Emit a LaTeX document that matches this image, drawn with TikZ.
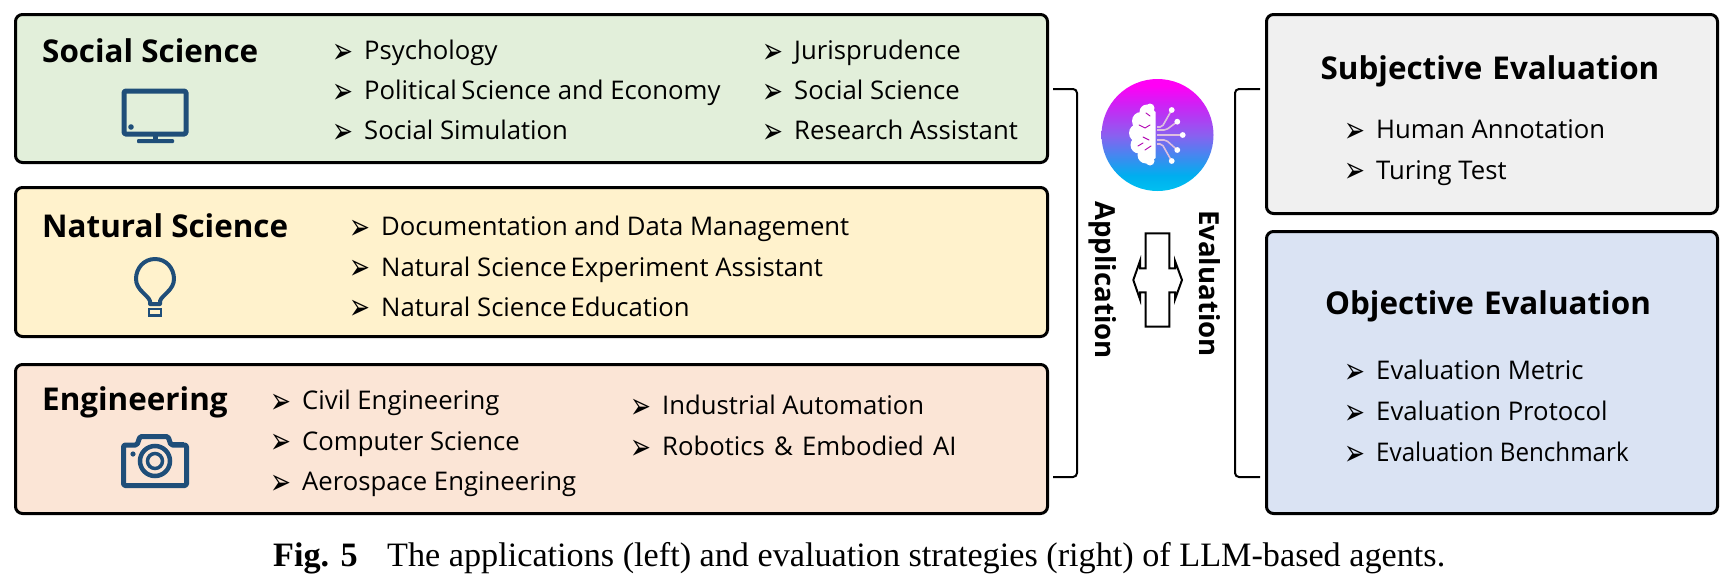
\documentclass[tikz,border=0pt]{standalone}
\usepackage{fontspec}
\setmainfont{Open Sans}
\newfontfamily\arrowfont{DejaVu Sans}
\newfontfamily\capfont{Liberation Serif}
\usetikzlibrary{calc}
\definecolor{iconblue}{HTML}{1F4E79}
\definecolor{gsoc}{HTML}{E2EFDA}
\definecolor{gnat}{HTML}{FFF2CC}
\definecolor{geng}{HTML}{FBE5D6}
\definecolor{gsub}{HTML}{F0F0F0}
\definecolor{gobj}{HTML}{DAE3F3}
\definecolor{bgA}{HTML}{00C0F0}
\definecolor{bgB}{HTML}{00AEEF}
\definecolor{bgC}{HTML}{8A60F0}
\definecolor{bgD}{HTML}{D020F5}
\definecolor{bgE}{HTML}{FF00F5}
\pgfdeclareverticalshading{brainbg}{100bp}{
 color(0bp)=(bgA);
 color(25bp)=(bgA);
 color(32bp)=(bgB);
 color(50bp)=(bgC);
 color(64bp)=(bgD);
 color(72bp)=(bgE);
 color(100bp)=(bgE)}
\tikzset{
 panel/.style={draw=black,line width=3pt,rounded corners=7pt,anchor=north west,inner sep=0pt},
 heading/.style={font=\bfseries\fontsize{31.4}{32}\selectfont,inner sep=0pt,anchor=mid west},
 entry/.style={font=\fontsize{25.7}{26}\selectfont,inner sep=0pt,anchor=mid west},
 vlabel/.style={font=\bfseries\fontsize{27.6}{28}\selectfont,inner sep=0pt,rotate=-90},
 bracket/.style={draw=black,line width=2pt,rounded corners=4pt},
 iconline/.style={draw=iconblue,line width=5pt,line join=round},
 trace/.style={draw=white!75!violet,line width=1.6pt,rounded corners=2pt}
}
\newcommand{\bul}[1]{\makebox[30pt][l]{\hspace{-1.5pt}\raisebox{-3.5pt}{\scalebox{1}[1.45]{\arrowfont\fontsize{25}{25}\selectfont ➢}}}#1}
\begin{document}
\begin{tikzpicture}[x=1pt,y=-1pt]
\useasboundingbox (0,0) rectangle (1727,584);
% panels
\node[panel,fill=gsoc,minimum width=1032pt,minimum height=148pt] (social) at (14,13) {};
\node[panel,fill=gnat,minimum width=1032pt,minimum height=149pt] (natural) at (14,186) {};
\node[panel,fill=geng,minimum width=1032pt,minimum height=149pt] (engin) at (14,363) {};
\node[panel,fill=gsub,minimum width=451pt,minimum height=199pt] (subj) at (1265,13) {};
\node[panel,fill=gobj,minimum width=451pt,minimum height=282pt] (obj) at (1265,230) {};
% headings
\node[heading] (tsoc) at (42,60) {Social Science};
\node[heading] (tnat) at (42,235) {Natural Science};
\node[heading] (teng) at (42,408) {Engineering};
\node[heading,anchor=center] (tsub) at (1490,71) {Subjective\hspace{2pt} Evaluation};
\node[heading,anchor=center] (tobj) at (1488,306) {Objective\hspace{2pt} Evaluation};
% social
\node[entry] (s1) at (334,57) {\bul{Psychology}};
\node[entry] (s2) at (334,97) {\bul{Political\hspace{-2pt} Science and Economy}};
\node[entry] (s3) at (334,137) {\bul{Social Simulation}};
\node[entry] (s4) at (764,57) {\bul{Jurisprudence}};
\node[entry] (s5) at (764,97) {\bul{Social Science}};
\node[entry] (s6) at (764,137) {\bul{Research Assistant}};
% natural
\node[entry] (n1) at (351,233) {\bul{Documentation and Data Management}};
\node[entry] (n2) at (351,273.5) {\bul{Natural Science\hspace{-3pt} Experiment Assistant}};
\node[entry] (n3) at (351,313.5) {\bul{Natural Science\hspace{-3pt} Education}};
% engineering
\node[entry] (e1) at (272,407) {\bul{Civil Engineering}};
\node[entry] (e2) at (272,447.5) {\bul{Computer Science}};
\node[entry] (e3) at (272,488) {\bul{Aerospace Engineering}};
\node[entry] (e4) at (632,412) {\bul{Industrial Automation}};
\node[entry] (e5) at (632,453) {\bul{Robotics\hspace{2.5pt} \&\hspace{2.5pt} Embodied\hspace{2.5pt} AI}};
% evaluation
\node[entry] (j1) at (1346,136) {\bul{Human Annotation}};
\node[entry] (j2) at (1346,176.5) {\bul{Turing Test}};
\node[entry] (o1) at (1346,377) {\bul{Evaluation Metric}};
\node[entry] (o2) at (1346,418) {\bul{Evaluation Protocol}};
\node[entry] (o3) at (1346,459) {\bul{\scalebox{0.94}[1]{Evaluation Benchmark}}};
% brackets
\coordinate (la) at (1053,89); \coordinate (lb) at (1077,89);
\coordinate (lc) at (1077,477); \coordinate (ld) at (1053,477);
\coordinate (ra) at (1260,89); \coordinate (rb) at (1235,89);
\coordinate (rc) at (1235,477); \coordinate (rd) at (1260,477);
\draw[bracket] (la) -- (lb) -- (lc) -- (ld);
\draw[bracket] (ra) -- (rb) -- (rc) -- (rd);
% vertical labels
\node[vlabel] (app) at (1103,280) {Application};
\node[vlabel] (eva) at (1210,283.5) {Evaluation};
% double arrow
\draw[black,line width=2pt,fill=white,line join=miter]
 (1145.7,233.3) -- (1145.7,268.3) -- (1140,268.3) -- (1140,261) -- (1133.3,280) -- (1140,299.3) -- (1140,292.3) -- (1145.7,292.3)
 -- (1145.7,326.7) -- (1169.3,326.7) -- (1169.3,292.3) -- (1175,292.3) -- (1175,299.3) -- (1182,280) -- (1175,261) -- (1175,268.3) -- (1169.3,268.3) -- (1169.3,233.3) -- cycle;
% brain logo
\shade[shading=brainbg] (1157.5,135) circle (56);
\begin{scope}
\clip (1128,100) rectangle (1155.5,170);
\fill[white] (1147,112) circle (7.5) (1141,121) circle (9) (1138,133) circle (9) (1139,145) circle (8.5) (1146,155) circle (8.5) (1150,135) circle (14) (1150,108) circle (4.5) (1150,161) circle (4.5) (1150,120) circle (10) (1150,150) circle (10);
\end{scope}
\draw[violet!60!magenta,line width=.9pt,line cap=round]
 (1146,113) -- (1150,116) (1139,125) -- (1145,128) -- (1150,125) (1138,146) -- (1143,143) (1145,150) -- (1151,146) (1143,137) -- (1149,140);
\foreach \i/\px/\py/\mx/\my in {a/1171.7/110/1162/127,b/1177.3/121.7/1166/130,d/1177.3/150/1166/140,e/1171.7/161/1162/144}{
 \draw[trace] (1157,\my) -- (\mx,\my) -- ($(\mx,\my)!.5!(\px,\py)$) -- (\px,\py);
 \fill[white] (\px,\py) circle (2.9);
}
\draw[trace] (1157,135) -- (1182.7,135);
\fill[white] (1182.7,135) circle (2.9);
% monitor icon
\draw[iconline,rounded corners=1.5pt] (124,91) rectangle (186,134);
\fill[iconblue] (131,127) circle (2.8);
\fill[iconblue] (153,136) rectangle (158,140);
\fill[iconblue,rounded corners=1pt] (137,139) rectangle (174,143);
% bulb icon
\draw[iconblue,line width=4pt,line join=round]
 (150,304) -- (150,301) .. controls (148,295) and (136,290) .. (136,279) .. controls (136,268) and (144,259) .. (155,259)
 .. controls (166,259) and (174,268) .. (174,279) .. controls (174,290) and (162,295) .. (160,301) -- (160,304) -- cycle;
\draw[iconblue,line width=2.8pt] (149,309) rectangle (161,315.5);
% camera icon
\draw[iconline,rounded corners=1.5pt] (123.5,445) -- (137,445) -- (140,436.5) -- (168,436.5) -- (171,445) -- (186.5,445) -- (186.5,485.5) -- (123.5,485.5) -- cycle;
\draw[iconblue,line width=4.5pt] (155,461) circle (15);
\draw[iconblue,line width=3.5pt] (155,461) circle (7.5);
\fill[iconblue] (133,454) circle (2.6);
\fill[iconblue] (173,442) rectangle (184,445);
\draw[geng,line width=1pt] (173,441) -- (181,441);
% caption
\node[font=\capfont\fontsize{34.2}{35}\selectfont,inner sep=0pt,anchor=mid west] (cap) at (273,564) {\textbf{Fig. 5}\hspace*{29.5pt}The applications (left) and evaluation strategies (right) of LLM-based agents.};
\end{tikzpicture}
\end{document}
